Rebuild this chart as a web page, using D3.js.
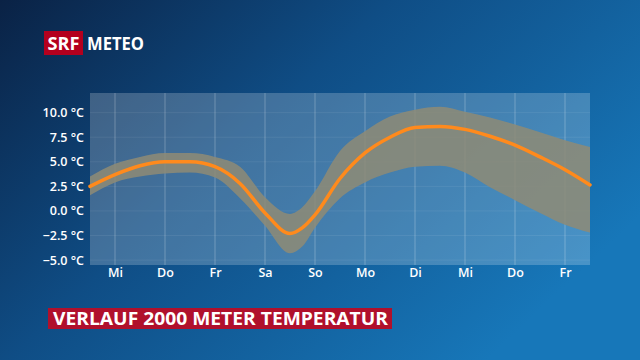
<!DOCTYPE html>
<html>
<head>
<meta charset="utf-8">
<script src="https://cdn.jsdelivr.net/npm/d3@7"></script>
<style>
  body { margin: 0; padding: 0; overflow: hidden; }
  svg { display: block; font-family: "Open Sans", "Noto Sans", sans-serif; }
</style>
</head>
<body>
<div id="chart"></div>
<script>
// position in days from the left edge of the plot
var days = [0, 0.5, 1, 1.5, 2, 2.5, 3, 3.5, 4, 4.25, 4.5, 5, 5.5, 6, 6.5, 7, 7.5, 8, 8.5, 9, 9.5, 10];
var tempMean  = [2.5, 3.7, 4.6, 5.0, 5.0, 4.5, 2.8, -0.2, -2.3, -1.7, -0.4, 3.3, 5.9, 7.5, 8.5, 8.6, 8.3, 7.6, 6.7, 5.5, 4.2, 2.65];
var tempUpper = [3.5, 4.8, 5.5, 5.9, 5.9, 5.5, 4.5, 1.4, -0.3, 0.4, 2.0, 6.1, 8.1, 9.6, 10.3, 10.6, 10.1, 9.5, 8.8, 8.0, 7.2, 6.5];
var tempLower = [1.6, 2.9, 3.5, 3.8, 3.9, 3.4, 1.3, -1.5, -4.3, -3.6, -1.7, 1.3, 2.9, 3.9, 4.5, 4.6, 3.9, 2.4, 1.1, -0.2, -1.4, -2.2];

var dayLabels = ["Mi", "Do", "Fr", "Sa", "So", "Mo", "Di", "Mi", "Do", "Fr"];
var dayTicks = [0.5, 1.5, 2.5, 3.5, 4.5, 5.5, 6.5, 7.5, 8.5, 9.5];
var yTicks = [10, 7.5, 5, 2.5, 0, -2.5, -5];

var W = 640, H = 360;
var plot = {left: 90, right: 590, top: 93, bottom: 265};

var svg = d3.select("#chart").append("svg")
    .attr("width", W)
    .attr("height", H);

// background gradient
var defs = svg.append("defs");
var bg = defs.append("linearGradient")
    .attr("id", "bg")
    .attr("x1", "0%").attr("y1", "0%")
    .attr("x2", "100%").attr("y2", "60%");
bg.append("stop").attr("offset", "0%").attr("stop-color", "#0a2245");
bg.append("stop").attr("offset", "45%").attr("stop-color", "#0f4d85");
bg.append("stop").attr("offset", "100%").attr("stop-color", "#1777b9");
svg.append("rect").attr("width", W).attr("height", H).attr("fill", "url(#bg)");

var x = d3.scaleLinear().domain([0, 10]).range([plot.left, plot.right]);
var y = d3.scaleLinear().domain([-5.5, 12]).range([plot.bottom, plot.top]);

// plot panel
svg.append("rect")
    .attr("x", plot.left).attr("y", plot.top)
    .attr("width", plot.right - plot.left)
    .attr("height", plot.bottom - plot.top)
    .attr("fill", "#ffffff")
    .attr("fill-opacity", 0.21);

// faint horizontal grid
svg.append("g")
  .selectAll("line")
  .data(yTicks)
  .enter()
  .append("line")
    .attr("x1", plot.left)
    .attr("x2", plot.right)
    .attr("y1", function(d) { return y(d); })
    .attr("y2", function(d) { return y(d); })
    .attr("stroke", "#ffffff")
    .attr("stroke-opacity", 0.07);

// vertical grid lines at day ticks
svg.append("g")
  .selectAll("line")
  .data(dayTicks)
  .enter()
  .append("line")
    .attr("x1", function(d) { return x(d); })
    .attr("x2", function(d) { return x(d); })
    .attr("y1", plot.top)
    .attr("y2", plot.bottom)
    .attr("stroke", "#ffffff")
    .attr("stroke-opacity", 0.25)
    .attr("stroke-width", 1);

var rows = days.map(function(d, i) {
    return {d: d, mean: tempMean[i], hi: tempUpper[i], lo: tempLower[i]};
});

// uncertainty band
var area = d3.area()
    .x(function(r) { return x(r.d); })
    .y0(function(r) { return y(r.lo); })
    .y1(function(r) { return y(r.hi); })
    .curve(d3.curveMonotoneX);
svg.append("path")
    .datum(rows)
    .attr("d", area)
    .attr("fill", "#8e8a76")
    .attr("fill-opacity", 0.86);

// mean line
var line = d3.line()
    .x(function(r) { return x(r.d); })
    .y(function(r) { return y(r.mean); })
    .curve(d3.curveMonotoneX);
svg.append("path")
    .datum(rows)
    .attr("d", line)
    .attr("fill", "none")
    .attr("stroke", "#ff8a1c")
    .attr("stroke-width", 3.5)
    .attr("stroke-linecap", "round");

// y axis labels
var yAxis = d3.axisLeft(y)
    .tickValues(yTicks)
    .tickSize(0)
    .tickPadding(6)
    .tickFormat(function(d) { return d3.format(".1f")(d) + " °C"; });
var yg = svg.append("g")
    .attr("transform", "translate(" + plot.left + ",0)")
    .call(yAxis);
yg.select(".domain").remove();
yg.selectAll("text")
    .attr("fill", "#ffffff")
    .attr("font-size", "12.5px")
    .attr("font-weight", 600)
    .attr("font-family", "'Open Sans', sans-serif");

// x axis labels
var xAxis = d3.axisBottom(x)
    .tickValues(dayTicks)
    .tickSize(0)
    .tickPadding(3)
    .tickFormat(function(d, i) { return dayLabels[i]; });
var xg = svg.append("g")
    .attr("transform", "translate(0," + plot.bottom + ")")
    .call(xAxis);
xg.select(".domain").remove();
xg.selectAll("text")
    .attr("fill", "#ffffff")
    .attr("font-size", "12.5px")
    .attr("font-weight", 600)
    .attr("font-family", "'Open Sans', sans-serif");

// SRF METEO logo
svg.append("rect")
    .attr("x", 44).attr("y", 31)
    .attr("width", 39).attr("height", 24)
    .attr("fill", "#b4001e");
svg.append("text")
    .attr("x", 63.5).attr("y", 49.5)
    .attr("text-anchor", "middle")
    .attr("fill", "#ffffff")
    .attr("font-size", "17px")
    .attr("font-weight", 700)
    .attr("textLength", 32)
    .attr("lengthAdjust", "spacingAndGlyphs")
    .text("SRF");
svg.append("text")
    .attr("x", 87).attr("y", 49.5)
    .attr("fill", "#ffffff")
    .attr("font-size", "17px")
    .attr("font-weight", 700)
    .attr("textLength", 57)
    .attr("lengthAdjust", "spacingAndGlyphs")
    .text("METEO");

// title bar
svg.append("rect")
    .attr("x", 48).attr("y", 308)
    .attr("width", 344).attr("height", 21)
    .attr("fill", "#b0102c");
svg.append("text")
    .attr("x", 53).attr("y", 325)
    .attr("fill", "#ffffff")
    .attr("font-size", "17px")
    .attr("font-weight", 700)
    .attr("textLength", 335)
    .attr("lengthAdjust", "spacingAndGlyphs")
    .text("VERLAUF 2000 METER TEMPERATUR");
</script>
</body>
</html>
